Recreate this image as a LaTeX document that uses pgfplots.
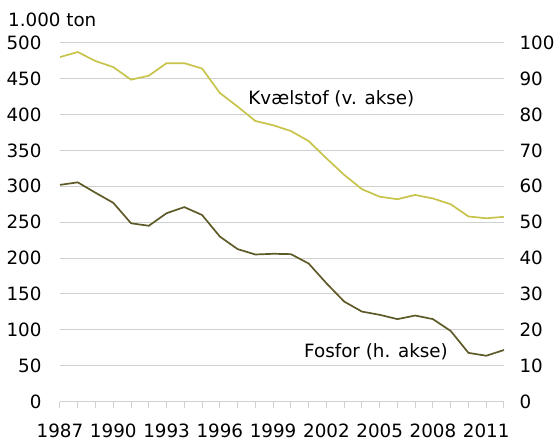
\documentclass[border=0pt]{standalone}
\usepackage{fontspec}
\setmainfont{DejaVu Sans}
\usepackage{pgfplots}
\pgfplotsset{compat=1.18}
\definecolor{kvcol}{HTML}{C8C34A}
\definecolor{focol}{HTML}{5E5A28}
\definecolor{gridc}{HTML}{D0D0D0}
\begin{document}
\begin{tikzpicture}
\path[use as bounding box] (-60pt,-39.3pt) rectangle (498pt,401.7pt);
\pgfplotsset{
  common/.style={
    scale only axis, width=444pt, height=359pt,
    at={(0pt,0pt)}, anchor=south west,
    xmin=1987, xmax=2012,
    /pgf/number format/assume math mode=true,
    /pgf/number format/1000 sep={},
    tick label style={font=\fontsize{18.3}{21}\selectfont},
    clip=false,
  }
}
\begin{axis}[common,
  ymin=0, ymax=500, ytick={0,50,...,500},
  axis y line*=left, axis x line*=bottom,
  y axis line style={draw=none},
  x axis line style={draw=gridc, line width=1pt},
  ymajorgrids, grid style={gridc, line width=1pt},
  major y tick style={draw=none},
  yticklabel style={xshift=-9pt},
  xtick={1987,1990,...,2011},
  minor xtick={1987,...,2012},
  xtick style={draw=gridc, line width=1pt},
  tick align=outside,
  major tick length=6pt, minor tick length=6pt,
  xticklabel style={yshift=-13pt},
]
\addplot[kvcol, line width=1.7pt] coordinates {
(1987,480) (1988,487) (1989,474.5) (1990,466) (1991,448.5) (1992,454)
(1993,471.5) (1994,471.5) (1995,464) (1996,430) (1997,411) (1998,391)
(1999,385) (2000,377) (2001,363) (2002,339) (2003,316) (2004,296)
(2005,285.5) (2006,282) (2007,288) (2008,283) (2009,275) (2010,258)
(2011,255.5) (2012,257.5)};
\node[anchor=west, inner sep=0pt, font=\fontsize{18.3}{21}\selectfont] at (axis cs:1997.6,422) {Kvælstof (v. akse)};
\node[anchor=west, inner sep=0pt, font=\fontsize{18.3}{21}\selectfont] at (axis cs:2000.74,70) {Fosfor (h. akse)};
\end{axis}
\begin{axis}[common,
  ymin=0, ymax=100, ytick={0,10,...,100},
  axis y line*=right, axis x line=none,
  y axis line style={draw=none},
  major y tick style={draw=none},
  yticklabel style={xshift=12pt},
  xtick=\empty,
]
\addplot[focol, line width=1.7pt] coordinates {
(1987,60.4) (1988,61.1) (1989,58.2) (1990,55.4) (1991,49.7) (1992,49.0)
(1993,52.5) (1994,54.2) (1995,52.0) (1996,46.0) (1997,42.5) (1998,41.0)
(1999,41.2) (2000,41.1) (2001,38.5) (2002,33.0) (2003,27.9) (2004,25.1)
(2005,24.2) (2006,23.0) (2007,24.0) (2008,23.0) (2009,19.7) (2010,13.6)
(2011,12.8) (2012,14.4)};
\end{axis}
\node[anchor=west, inner sep=0pt, font=\fontsize{18.3}{21}\selectfont] at (-52pt,381.7pt) {1.000 ton};
\end{tikzpicture}
\end{document}
